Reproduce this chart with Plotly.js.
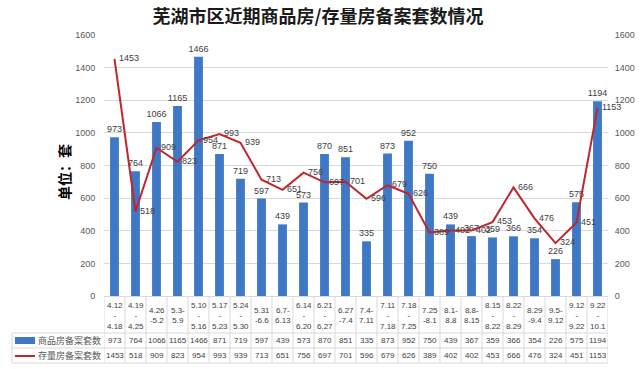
<!DOCTYPE html>
<html>
<head>
<meta charset="utf-8">
<script src="https://cdn.plot.ly/plotly-3.0.1.min.js"></script>
<style>html,body{margin:0;padding:0;background:#fff;}#chart{width:640px;height:369px;}</style>
</head>
<body>
<div id="chart"></div>
<script>
const categories = ['4.12<br>-<br>4.18','4.19<br>-<br>4.25','4.26<br>-5.2','5.3-<br>5.9','5.10<br>-<br>5.16','5.17<br>-<br>5.23','5.24<br>-<br>5.30','5.31<br>-6.6','6.7-<br>6.13','6.14<br>-<br>6.20','6.21<br>-<br>6.27','6.27<br>-7.4','7.4-<br>7.11','7.11<br>-<br>7.18','7.18<br>-<br>7.25','7.25<br>-8.1','8.1-<br>8.8','8.8-<br>8.15','8.15<br>-<br>8.22','8.22<br>-<br>8.29','8.29<br>-9.4','9.5-<br>9.12','9.12<br>-<br>9.22','9.22<br>-<br>10.1'];
const newHomeSales = [973,764,1066,1165,1466,871,719,597,439,573,870,851,335,873,952,750,439,367,359,366,354,226,575,1194];
const resaleSales = [1453,518,909,823,954,993,939,713,651,756,697,701,596,679,626,389,402,402,453,666,476,324,451,1153];
const seriesNames = ['商品房备案套数','存量房备案套数'];
const yTicks = [0,200,400,600,800,1000,1200,1400,1600];

const BLUE = '#3f78c5', RED = '#c0272d', GRID = '#d9d9d9', TXT = '#404040';
// pixel -> paper helpers (plot area: x 104..608, y 35..296)
const L = 104, R = 608, T = 35, B = 296;
const px = p => (p - L) / (R - L);
const py = p => (B - p) / (B - T);

const traces = [
  {type:'bar', x:categories, y:newHomeSales, name:seriesNames[0], marker:{color:BLUE},
   text:newHomeSales.map(String), textposition:'outside', constraintext:'none', cliponaxis:false,
   textfont:{size:9, color:TXT, family:'Liberation Sans, Arial'}},
  {type:'scatter', mode:'lines+text', x:categories, y:resaleSales, name:seriesNames[1], yaxis:'y2',
   line:{color:RED, width:2}, text:resaleSales.map(v => '\u2002' + v), textposition:'middle right', cliponaxis:false,
   textfont:{size:9, color:TXT, family:'Liberation Sans, Arial'}}
];

const shapes = [];
const annotations = [];
const n = categories.length;
// vertical table lines
for (let k = 0; k <= n; k++) {
  shapes.push({type:'line', xref:'x', yref:'paper', x0:k-0.5, x1:k-0.5, y0:py(297), y1:py(363), line:{color:GRID, width:1}});
}
shapes.push({type:'line', xref:'paper', yref:'paper', x0:px(12), x1:px(12), y0:py(333), y1:py(363), line:{color:GRID, width:1}});
[333,348,363].forEach(y => shapes.push({type:'line', xref:'paper', yref:'paper', x0:px(12), x1:1, y0:py(y), y1:py(y), line:{color:GRID, width:1}}));
// legend keys
shapes.push({type:'rect', xref:'paper', yref:'paper', x0:px(15), x1:px(35), y0:py(344), y1:py(337), fillcolor:BLUE, line:{width:0}});
shapes.push({type:'line', xref:'paper', yref:'paper', x0:px(15), x1:px(35), y0:py(356), y1:py(356), line:{color:RED, width:2}});

const smallFont = {size:8, color:TXT, family:'Liberation Sans, Arial'};
categories.forEach((c, i) => {
  annotations.push({xref:'x', yref:'paper', x:i, y:py(315.5), text:c, showarrow:false, yanchor:'middle', xanchor:'center', font:smallFont});
  annotations.push({xref:'x', yref:'paper', x:i, y:py(340.5), text:String(newHomeSales[i]), showarrow:false, yanchor:'middle', xanchor:'center', font:smallFont});
  annotations.push({xref:'x', yref:'paper', x:i, y:py(355.5), text:String(resaleSales[i]), showarrow:false, yanchor:'middle', xanchor:'center', font:smallFont});
});
annotations.push({xref:'paper', yref:'paper', x:px(36), y:py(340.5), text:seriesNames[0], showarrow:false, xanchor:'left', yanchor:'middle', font:{size:9, color:'#595959', family:'Noto Sans CJK SC'}});
annotations.push({xref:'paper', yref:'paper', x:px(36), y:py(355.5), text:seriesNames[1], showarrow:false, xanchor:'left', yanchor:'middle', font:{size:9, color:'#595959', family:'Noto Sans CJK SC'}});
annotations.push({xref:'paper', yref:'paper', x:px(64), y:py(172), text:'<b>单位：套</b>', textangle:-90, showarrow:false, xanchor:'center', yanchor:'middle', font:{size:14, color:'#000', family:'Noto Sans CJK SC'}});

const layout = {
  width:640, height:369,
  margin:{l:L, r:640-R, t:T, b:369-B, pad:0},
  paper_bgcolor:'#fff', plot_bgcolor:'#fff',
  showlegend:false,
  bargap:0.58,
  title:{text:'<b>芜湖市区近期商品房/存量房备案套数情况</b>', x:0.497, xanchor:'center', y:0.955, yanchor:'middle',
         font:{size:18, color:'#1a1a1a', family:'Noto Sans CJK SC'}},
  xaxis:{type:'category', range:[-0.5, n-0.5], showticklabels:false, ticks:'', showgrid:false,
         showline:true, linecolor:GRID, linewidth:1, zeroline:false},
  yaxis:{range:[0,1600], tickvals:yTicks, showgrid:true, gridcolor:GRID, gridwidth:1, zeroline:false,
         ticks:'outside', ticklen:6, tickcolor:'rgba(0,0,0,0)', tickfont:{size:9, color:'#595959', family:'Liberation Sans, Arial'}},
  yaxis2:{range:[0,1600], tickvals:yTicks, overlaying:'y', side:'right', showgrid:false, zeroline:false,
          ticks:'outside', ticklen:4, tickcolor:'rgba(0,0,0,0)', tickfont:{size:9, color:'#595959', family:'Liberation Sans, Arial'}},
  shapes:shapes, annotations:annotations
};

Plotly.newPlot('chart', traces, layout, {displayModeBar:false, staticPlot:true});
</script>
</body>
</html>
